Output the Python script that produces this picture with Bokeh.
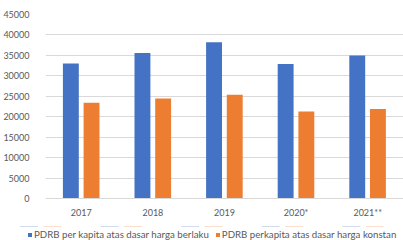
from bokeh.plotting import figure
from bokeh.layouts import column
from bokeh.models import ColumnDataSource, FactorRange, Range1d, Legend, LegendItem, SingleIntervalTicker
from bokeh.transform import dodge
from bokeh.embed import file_html
from bokeh.resources import INLINE

years = ["2017", "2018", "2019", "2020*", "2021**"]
berlaku = [33000, 35600, 38200, 32900, 35000]
konstan = [23400, 24450, 25350, 21300, 21900]
series_names = ["PDRB per kapita atas dasar harga berlaku",
                "PDRB perkapita atas dasar harga konstan"]
colors = ["#4472C4", "#ED7D31"]

FONT = "Lato"
TXT = "#595959"
GRID = "#d9d9d9"

src = ColumnDataSource(dict(year=years, berlaku=berlaku, konstan=konstan))
xr = FactorRange(*years, range_padding=0)

p = figure(width=403, height=226, x_range=xr,
           y_range=Range1d(0, 45000), output_backend="svg", toolbar_location=None,
           min_border_left=44, min_border_right=0, min_border_top=14, min_border_bottom=28)
p.outline_line_color = None

p.vbar(x=dodge("year", -0.146, range=xr), top="berlaku", width=0.222,
       source=src, fill_color=colors[0], line_color=None)
p.vbar(x=dodge("year", 0.143, range=xr), top="konstan", width=0.222,
       source=src, fill_color=colors[1], line_color=None)

p.yaxis.ticker = SingleIntervalTicker(interval=5000)
p.yaxis.axis_line_color = None
p.yaxis.major_tick_line_color = None
p.yaxis.minor_tick_line_color = None
p.yaxis.major_label_standoff = 10
p.yaxis.major_label_text_font = FONT
p.yaxis.major_label_text_font_size = "9px"
p.yaxis.major_label_text_color = TXT

p.xaxis.axis_line_color = GRID
p.xaxis.major_tick_line_color = None
p.xaxis.minor_tick_line_color = None
p.xaxis.major_label_standoff = 2
p.xaxis.major_label_text_font = FONT
p.xaxis.major_label_text_font_size = "9px"
p.xaxis.major_label_text_color = TXT

p.xgrid.grid_line_color = None
p.ygrid.grid_line_color = GRID
p.ygrid.grid_line_width = 1

# legend strip: same series drawn on a range where the bars lie out of view,
# so only the legend entries (with their colour swatches) are shown
p2 = figure(width=403, height=14, x_range=xr, y_range=Range1d(-2, -1),
            output_backend="svg", toolbar_location=None, min_border=0,
            x_axis_location=None, y_axis_location=None)
p2.frame_align = False
p2.grid.grid_line_color = None
p2.outline_line_color = None
lr1 = p2.vbar(x=dodge("year", -0.146, range=xr), top="berlaku", width=0.222,
              source=src, fill_color=colors[0], line_color=None)
lr2 = p2.vbar(x=dodge("year", 0.143, range=xr), top="konstan", width=0.222,
              source=src, fill_color=colors[1], line_color=None)

legend = Legend(items=[LegendItem(label=series_names[0], renderers=[lr1]),
                       LegendItem(label=series_names[1], renderers=[lr2])],
                orientation="horizontal", location=(27, 0),
                glyph_width=5, glyph_height=5, label_standoff=2, spacing=6,
                padding=0, margin=0, border_line_color=None, background_fill_alpha=0,
                label_text_font=FONT, label_text_font_size="9.7px",
                label_text_color=TXT, label_height=9)
p2.add_layout(legend, "center")

layout = column(p, p2, spacing=0)
open("out.html", "w").write(file_html(layout, INLINE))
